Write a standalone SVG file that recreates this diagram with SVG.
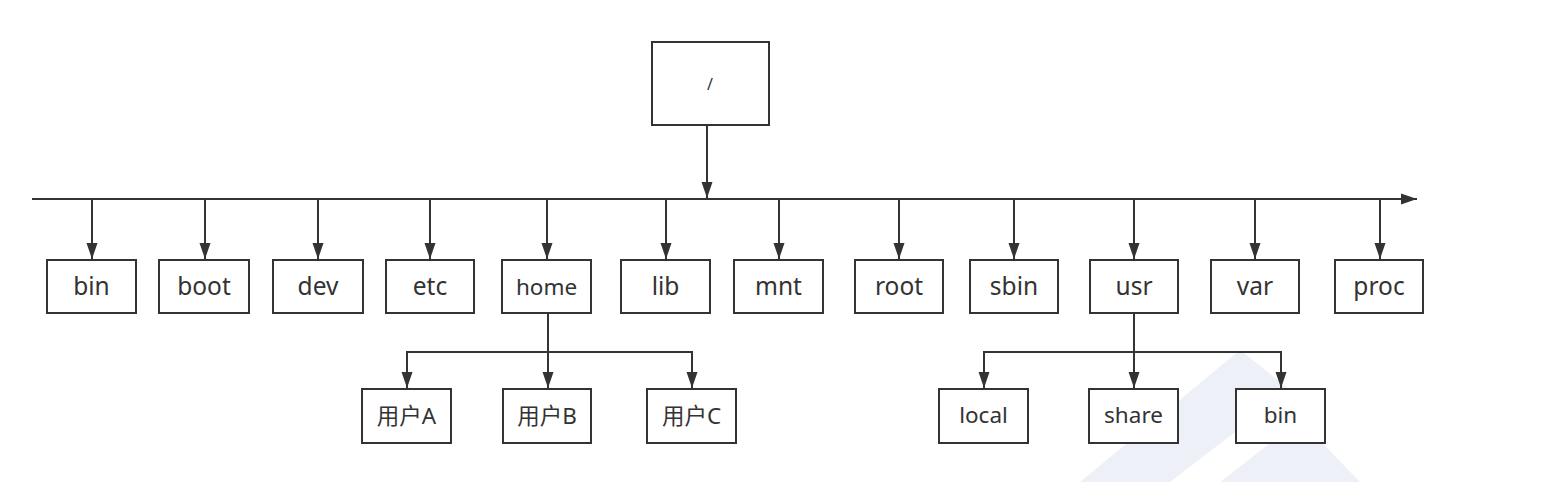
<svg xmlns="http://www.w3.org/2000/svg" width="1567" height="482" viewBox="0 0 1567 482">
<style>
.box{fill:#fff;stroke:#333;stroke-width:2}
.t{font-family:"Noto Sans","Noto Sans CJK SC",sans-serif;fill:#333;text-anchor:middle;font-size:24.5px}
.s{font-size:22.5px}
.c{fill:none;stroke:#333;stroke-width:2}
.wm{fill:#eef0f7}
</style>
<defs>
<marker id="ah" markerUnits="userSpaceOnUse" markerWidth="16" markerHeight="12" refX="16" refY="6" orient="auto">
<path d="M0,0.5 L16,6 L0,11.5 Z" fill="#333"/>
</marker>
</defs>
<rect width="1567" height="482" fill="#fff"/>
<g id="watermark">
<polygon class="wm" points="1080,482 1240,350 1290,390 1170,482"/>
<polygon class="wm" points="1220,482 1300,420 1360,482"/>
</g>
<g id="connectors">
<path class="c" d="M707,125 V198" marker-end="url(#ah)"/>
<path class="c" d="M32,199 H1417" marker-end="url(#ah)"/>
<path class="c" d="M92,200 V259" marker-end="url(#ah)"/>
<path class="c" d="M205,200 V259" marker-end="url(#ah)"/>
<path class="c" d="M318,200 V259" marker-end="url(#ah)"/>
<path class="c" d="M430,200 V259" marker-end="url(#ah)"/>
<path class="c" d="M547,200 V259" marker-end="url(#ah)"/>
<path class="c" d="M666,200 V259" marker-end="url(#ah)"/>
<path class="c" d="M779,200 V259" marker-end="url(#ah)"/>
<path class="c" d="M899,200 V259" marker-end="url(#ah)"/>
<path class="c" d="M1014,200 V259" marker-end="url(#ah)"/>
<path class="c" d="M1134,200 V259" marker-end="url(#ah)"/>
<path class="c" d="M1255,200 V259" marker-end="url(#ah)"/>
<path class="c" d="M1380,200 V259" marker-end="url(#ah)"/>
<path class="c" d="M548,313 V388" marker-end="url(#ah)"/>
<path class="c" d="M548,352 H407 V388" marker-end="url(#ah)"/>
<path class="c" d="M548,352 H692 V388" marker-end="url(#ah)"/>
<path class="c" d="M1134,313 V388" marker-end="url(#ah)"/>
<path class="c" d="M1134,352 H984 V388" marker-end="url(#ah)"/>
<path class="c" d="M1134,352 H1281 V388" marker-end="url(#ah)"/>
</g>
<g id="n-root"><rect class="box" x="652" y="42" width="117" height="83"/><text class="t" x="710" y="90" style="font-size:16px">/</text></g>
<g id="n-bin"><rect class="box" x="47" y="260" width="89" height="53"/><text class="t" x="91.5" y="295">bin</text></g>
<g id="n-boot"><rect class="box" x="159" y="260" width="90" height="53"/><text class="t" x="204" y="295">boot</text></g>
<g id="n-dev"><rect class="box" x="273" y="260" width="90" height="53"/><text class="t" x="318" y="295">dev</text></g>
<g id="n-etc"><rect class="box" x="386" y="260" width="88" height="53"/><text class="t" x="430" y="295">etc</text></g>
<g id="n-home"><rect class="box" x="502" y="260" width="89" height="53"/><text class="t s" x="546.5" y="295">home</text></g>
<g id="n-lib"><rect class="box" x="621" y="260" width="89" height="53"/><text class="t" x="665.5" y="295">lib</text></g>
<g id="n-mnt"><rect class="box" x="734" y="260" width="89" height="53"/><text class="t" x="778.5" y="295">mnt</text></g>
<g id="n-rootdir"><rect class="box" x="855" y="260" width="88" height="53"/><text class="t" x="899" y="295">root</text></g>
<g id="n-sbin"><rect class="box" x="970" y="260" width="88" height="53"/><text class="t" x="1014" y="295">sbin</text></g>
<g id="n-usr"><rect class="box" x="1090" y="260" width="88" height="53"/><text class="t" x="1134" y="295">usr</text></g>
<g id="n-var"><rect class="box" x="1211" y="260" width="88" height="53"/><text class="t" x="1255" y="295">var</text></g>
<g id="n-proc"><rect class="box" x="1335" y="260" width="88" height="53"/><text class="t" x="1379" y="295">proc</text></g>
<g id="n-userA"><rect class="box" x="362" y="389" width="89" height="54"/><text class="t s" x="406.5" y="424">用户A</text></g>
<g id="n-userB"><rect class="box" x="503" y="389" width="88" height="54"/><text class="t s" x="547" y="424">用户B</text></g>
<g id="n-userC"><rect class="box" x="647" y="389" width="89" height="54"/><text class="t s" x="691.5" y="424">用户C</text></g>
<g id="n-local"><rect class="box" x="939" y="389" width="89" height="54"/><text class="t s" x="983.5" y="423">local</text></g>
<g id="n-share"><rect class="box" x="1089" y="389" width="89" height="54"/><text class="t s" x="1133.5" y="423">share</text></g>
<g id="n-bin2"><rect class="box" x="1236" y="389" width="89" height="54"/><text class="t s" x="1280.5" y="423">bin</text></g>
</svg>
